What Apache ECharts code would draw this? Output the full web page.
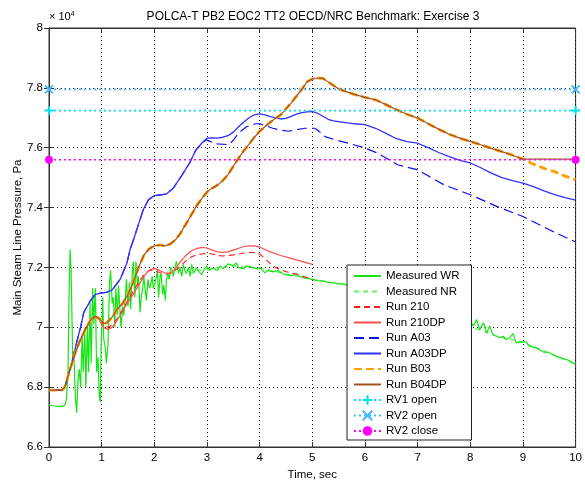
<!DOCTYPE html>
<html>
<head>
<meta charset="utf-8">
<script src="https://cdn.jsdelivr.net/npm/echarts@6/dist/echarts.min.js"></script>
<style>
html,body{margin:0;padding:0;background:#fff;}
#chart{width:585px;height:486px;}
</style>
</head>
<body>
<div id="chart"></div>
<script>
// ---- data (pressure in units of 10^4 Pa, time in s) ----
const xTicks = [0,1,2,3,4,5,6,7,8,9,10];
const yTicks = [6.6,6.8,7,7.2,7.4,7.6,7.8,8];

const wrT = [0,0.1,0.2,0.3,0.33,0.36,0.38,0.4,0.42,0.45,0.47,0.5,0.525,0.55,0.575,0.6,0.63,0.65,0.68,0.7,0.73,0.75,0.78,0.8,0.83,0.85,0.88,0.905,0.93,0.955,0.975,0.99,1.02,1.04,1.07,1.09,1.12,1.15,1.17,1.2,1.22,1.25,1.27,1.3,1.32,1.35,1.37,1.4,1.42,1.45,1.47,1.5,1.53,1.55,1.58,1.6,1.63,1.65,1.68,1.7,1.73,1.75,1.78,1.8,1.83,1.85,1.88,1.91,1.93,1.96,1.98,2,2.03,2.06,2.08,2.11,2.13,2.16,2.18,2.21,2.23,2.26,2.28,2.31,2.34,2.36,2.39,2.42,2.46,2.49,2.52,2.55,2.58,2.61,2.65,2.68,2.71,2.74,2.8,2.85,2.9,2.95,3,3.05,3.1,3.2,3.25,3.3,3.4,3.5,3.55,3.6,3.7,3.75,3.85,3.95,4,4.1,4.15,4.25,4.35,4.45,4.5,4.6,4.7,4.75,4.85,4.95,5,5.1,5.2,5.3,5.4,5.5,5.6,5.8,6,6.2,6.4,6.6,6.8,7,7.2,7.4,7.6,7.8,8,8.06,8.12,8.18,8.25,8.31,8.37,8.43,8.5,8.56,8.62,8.68,8.75,8.81,8.87,8.97,9.06,9.12,9.25,9.38,9.5,9.63,9.75,9.88,10];
const wrV = [6.740,6.737,6.735,6.738,6.760,6.840,7.100,7.260,7.190,6.900,6.920,6.770,6.715,6.820,6.860,6.800,6.970,6.850,6.990,6.800,7.010,6.850,7.080,6.880,7.130,7.010,7.130,6.850,6.900,6.770,6.750,6.940,7.100,6.960,6.930,6.880,6.940,7.150,7.190,7.080,7.100,7.000,7.130,7.040,7.140,7.050,7.000,7.070,7.040,7.100,7.160,7.070,7.150,7.060,7.180,7.220,7.100,7.220,7.140,7.170,7.050,7.100,7.130,7.170,7.120,7.090,7.160,7.130,7.140,7.170,7.130,7.140,7.160,7.190,7.100,7.170,7.180,7.110,7.140,7.090,7.160,7.180,7.160,7.200,7.190,7.170,7.200,7.220,7.180,7.200,7.170,7.210,7.190,7.180,7.200,7.170,7.210,7.180,7.200,7.185,7.176,7.195,7.205,7.190,7.198,7.190,7.205,7.195,7.212,7.205,7.215,7.200,7.195,7.205,7.200,7.195,7.200,7.182,7.190,7.185,7.190,7.178,7.176,7.172,7.180,7.170,7.165,7.162,7.160,7.156,7.155,7.150,7.148,7.146,7.145,7.130,7.120,7.100,7.090,7.080,7.070,7.060,7.050,7.040,7.030,7.025,7.020,7.004,7.026,6.992,7.015,6.981,7.004,6.976,6.970,6.965,6.970,6.959,6.965,6.979,6.948,6.951,6.951,6.937,6.931,6.918,6.915,6.903,6.896,6.889,6.876];

const nrT = [2.8,3.5,4.0,4.5,5.0,5.5,6.5,7.5,8.5,9.0,9.5,10];
const nrV = [7.19,7.205,7.198,7.178,7.16,7.146,7.085,7.035,6.97,6.95,6.915,6.876];

const r210T = [0,0.25,0.3,0.4,0.5,0.6,0.7,0.8,0.88,0.95,1,1.05,1.12,1.2,1.3,1.4,1.5,1.6,1.7,1.8,1.9,2,2.1,2.2,2.3,2.4,2.5,2.6,2.7,2.8,2.9,3,3.1,3.2,3.3,3.4,3.5,3.6,3.7,3.8,3.9,4,4.1,4.2,4.3,4.4,4.5,4.6,4.8,5];
const r210V = [6.79,6.79,6.80,6.86,6.915,6.96,6.995,7.025,7.035,7.028,7.015,7.005,7.0,7.008,7.03,7.06,7.09,7.12,7.15,7.175,7.19,7.19,7.183,7.178,7.18,7.19,7.205,7.222,7.235,7.242,7.245,7.248,7.245,7.24,7.238,7.24,7.242,7.245,7.248,7.25,7.25,7.245,7.23,7.213,7.2,7.192,7.186,7.182,7.172,7.16];

const r210dpT = [0,0.25,0.3,0.35,0.4,0.5,0.6,0.7,0.8,0.88,0.95,1,1.05,1.12,1.2,1.3,1.4,1.5,1.6,1.7,1.8,1.9,2,2.1,2.2,2.3,2.4,2.5,2.6,2.7,2.8,2.9,3,3.1,3.2,3.3,3.4,3.5,3.6,3.7,3.8,3.9,4,4.1,4.2,4.4,4.6,4.8,5];
const r210dpV = [6.79,6.79,6.80,6.83,6.86,6.915,6.96,6.995,7.025,7.035,7.025,7.01,6.998,6.993,7.0,7.025,7.055,7.085,7.11,7.14,7.17,7.19,7.197,7.19,7.182,7.18,7.195,7.22,7.24,7.255,7.263,7.267,7.265,7.258,7.252,7.25,7.252,7.258,7.264,7.27,7.272,7.272,7.268,7.26,7.252,7.24,7.23,7.22,7.21];

const a03T = [0,0.25,0.3,0.35,0.4,0.5,0.54,0.6,0.66,0.79,0.88,1,1.1,1.2,1.35,1.48,1.54,1.6,1.67,1.79,1.89,2,2.23,2.36,2.51,2.67,2.79,2.9,2.98,3.1,3.2,3.42,3.5,3.6,3.75,3.92,4,4.11,4.25,4.36,4.55,4.7,4.86,5.05,5.15,5.24,5.43,5.68,5.99,6.24,6.62,7,7.5,8,8.5,9,9.5,10];
const a03V = [6.79,6.79,6.80,6.83,6.86,6.93,6.96,7.0,7.05,7.09,7.11,7.115,7.117,7.125,7.16,7.215,7.26,7.29,7.328,7.393,7.426,7.44,7.445,7.465,7.504,7.549,7.593,7.612,7.627,7.618,7.613,7.61,7.625,7.649,7.67,7.68,7.68,7.674,7.665,7.66,7.655,7.66,7.665,7.665,7.652,7.637,7.627,7.615,7.60,7.582,7.543,7.526,7.476,7.443,7.404,7.37,7.326,7.285];

const a03dpT = [0,0.25,0.3,0.35,0.4,0.5,0.54,0.6,0.66,0.79,0.88,1,1.1,1.2,1.35,1.48,1.54,1.6,1.67,1.79,1.89,2,2.23,2.36,2.51,2.67,2.79,2.9,3,3.1,3.2,3.3,3.4,3.5,3.6,3.7,3.8,3.9,4,4.1,4.2,4.3,4.4,4.5,4.6,4.7,4.8,4.9,5,5.1,5.2,5.3,5.4,5.6,5.8,6,6.2,6.4,6.6,6.8,7,7.2,7.4,7.6,7.8,8,8.2,8.4,8.6,8.8,9,9.2,9.4,9.6,9.8,10];
const a03dpV = [6.79,6.79,6.80,6.83,6.86,6.93,6.96,7.0,7.05,7.09,7.11,7.115,7.117,7.125,7.16,7.215,7.26,7.29,7.328,7.393,7.426,7.44,7.445,7.465,7.504,7.549,7.593,7.615,7.632,7.633,7.632,7.635,7.64,7.652,7.67,7.686,7.70,7.71,7.713,7.71,7.704,7.70,7.696,7.698,7.705,7.712,7.717,7.72,7.721,7.715,7.705,7.695,7.69,7.685,7.68,7.677,7.665,7.648,7.63,7.62,7.615,7.60,7.584,7.57,7.558,7.549,7.533,7.515,7.50,7.49,7.482,7.47,7.456,7.443,7.433,7.425];

const b03T = [0,0.25,0.3,0.35,0.4,0.5,0.6,0.7,0.8,0.88,0.95,1,1.05,1.1,1.2,1.3,1.4,1.5,1.6,1.7,1.8,1.9,2,2.1,2.2,2.3,2.4,2.5,2.6,2.7,2.8,2.9,3,3.1,3.2,3.3,3.4,3.5,3.6,3.7,3.8,3.9,4,4.1,4.2,4.3,4.4,4.5,4.6,4.7,4.8,4.9,5,5.1,5.2,5.3,5.4,5.5,5.6,5.8,6,6.2,6.4,6.6,6.8,7,7.2,7.4,7.6,7.8,8,8.2,8.4,8.6,8.8,9,9.2,9.4,9.6,9.8,10];
const b03V = [6.79,6.79,6.80,6.83,6.86,6.915,6.96,6.997,7.027,7.037,7.03,7.02,7.013,7.015,7.035,7.062,7.08,7.11,7.15,7.20,7.24,7.262,7.272,7.275,7.272,7.278,7.292,7.315,7.345,7.375,7.405,7.43,7.452,7.465,7.475,7.49,7.51,7.538,7.565,7.59,7.612,7.635,7.655,7.67,7.685,7.698,7.71,7.73,7.75,7.772,7.795,7.82,7.83,7.833,7.832,7.82,7.808,7.797,7.79,7.778,7.768,7.76,7.744,7.727,7.712,7.699,7.68,7.662,7.645,7.632,7.621,7.61,7.598,7.587,7.575,7.562,7.545,7.531,7.52,7.505,7.493];

const b04dpT = [0,0.25,0.3,0.35,0.4,0.5,0.6,0.7,0.8,0.88,0.95,1,1.05,1.1,1.2,1.3,1.4,1.5,1.6,1.7,1.8,1.9,2,2.1,2.2,2.3,2.4,2.5,2.6,2.7,2.8,2.9,3,3.1,3.2,3.3,3.4,3.5,3.6,3.7,3.8,3.9,4,4.1,4.2,4.3,4.4,4.5,4.6,4.7,4.8,4.9,5,5.1,5.2,5.3,5.4,5.5,5.6,5.8,6,6.2,6.4,6.6,6.8,7,7.2,7.4,7.6,7.8,8,8.2,8.4,8.6,8.8,9,10];
const b04dpV = [6.79,6.79,6.80,6.83,6.86,6.915,6.96,6.997,7.027,7.037,7.03,7.02,7.013,7.015,7.035,7.062,7.08,7.11,7.15,7.20,7.24,7.262,7.272,7.275,7.272,7.278,7.292,7.315,7.345,7.375,7.405,7.43,7.452,7.465,7.475,7.49,7.51,7.538,7.565,7.59,7.612,7.635,7.655,7.67,7.685,7.698,7.71,7.73,7.75,7.772,7.795,7.82,7.83,7.833,7.832,7.82,7.808,7.797,7.79,7.778,7.768,7.76,7.744,7.727,7.712,7.699,7.68,7.662,7.645,7.632,7.621,7.61,7.598,7.587,7.575,7.562,7.562];

const rvT = [0, 10];
const rv1OpenV = [7.724, 7.724];
const rv2OpenV = [7.795, 7.795];
const rv2CloseV = [7.56, 7.56];

const legendNames = ['Measured WR','Measured NR','Run 210','Run 210DP','Run A03','Run A03DP','Run B03','Run B04DP','RV1 open','RV2 open','RV2 close'];
const markerNames = ['RV1 open','RV2 open','RV2 close'];

// ---- build ----
const zip = (t, v) => t.map((x, i) => [x, v[i]]);
const FONT = '"Liberation Sans", Arial, Helvetica, sans-serif';

function lineSeries(name, t, v, color, width, type) {
  return {
    name: name, type: 'line', data: zip(t, v),
    showSymbol: false, symbol: 'none', animation: false,
    lineStyle: { color: color, width: width, type: type },
    itemStyle: { color: color },
    emphasis: { disabled: true }
  };
}
function rvSeries(name, v, color, symbol, size, filled) {
  return {
    name: name, type: 'line', data: zip(rvT, v), animation: false,
    symbol: symbol, symbolSize: size, showSymbol: true,
    lineStyle: { color: color, width: 1.6, type: [2, 3] },
    itemStyle: filled ? { color: color } : { color: 'rgba(0,0,0,0)', borderColor: color, borderWidth: 2 },
    emphasis: { disabled: true }, z: 5
  };
}

const plusPath = 'path://M5,0L5,10M0,5L10,5';
const crossPath = 'path://M0,0L10,10M10,0L0,10';

const series = [
  lineSeries('Measured NR', nrT, nrV, '#66ee66', 1.2, [5, 4]),
  lineSeries('Measured WR', wrT, wrV, '#14e614', 1.2, 'solid'),
  lineSeries('Run 210', r210T, r210V, '#ff1a1a', 1.1, [6, 4]),
  lineSeries('Run 210DP', r210dpT, r210dpV, '#ff4d4d', 1.2, 'solid'),
  lineSeries('Run A03', a03T, a03V, '#1010ee', 1.2, [10, 5]),
  lineSeries('Run A03DP', a03dpT, a03dpV, '#3030ff', 1.3, 'solid'),
  lineSeries('Run B03', b03T, b03V, '#ffa000', 2.8, [8, 4]),
  lineSeries('Run B04DP', b04dpT, b04dpV, '#a0522d', 1.2, 'solid'),
  rvSeries('RV1 open', rv1OpenV, '#00e0f0', plusPath, 9, false),
  rvSeries('RV2 open', rv2OpenV, '#44b8ff', crossPath, 8, false),
  rvSeries('RV2 close', rv2CloseV, '#ff00ff', 'circle', 8, true)
];

const axisCommon = {
  type: 'value',
  axisLine: { show: true, lineStyle: { color: '#333', width: 1 } },
  axisTick: { show: true, inside: true, length: 5, lineStyle: { color: '#333' } },
  splitLine: { show: true, lineStyle: { color: '#111', width: 1, type: [1, 3] } }
};

const option = {
  backgroundColor: '#fff',
  animation: false,
  textStyle: { fontFamily: FONT },
  grid: { left: 49, right: 4.5, top: 28, bottom: 37.7, show: true, borderColor: '#333', borderWidth: 1, backgroundColor: 'rgba(0,0,0,0)' },
  xAxis: [
    Object.assign({}, axisCommon, {
      min: xTicks[0], max: xTicks[xTicks.length - 1], interval: 1,
      name: 'Time, sec', nameLocation: 'middle', nameGap: 22, nameMoveOverlap: false,
      nameTextStyle: { fontSize: 11.5, color: '#000', fontFamily: FONT },
      axisLabel: { fontSize: 11.5, color: '#000', margin: 5, fontFamily: FONT }
    }),
    Object.assign({}, axisCommon, {
      position: 'top', min: 0, max: 10, interval: 1,
      axisLabel: { show: false }, splitLine: { show: false }
    })
  ],
  yAxis: [
    Object.assign({}, axisCommon, {
      min: yTicks[0], max: yTicks[yTicks.length - 1], interval: 0.2,
      name: 'Main Steam Line Pressure, Pa', nameLocation: 'middle', nameGap: 25, nameRotate: 90, nameMoveOverlap: false,
      nameTextStyle: { fontSize: 11.5, color: '#000', fontFamily: FONT },
      axisLabel: { fontSize: 11.5, color: '#000', margin: 6, fontFamily: FONT,
        formatter: v => String(+v.toFixed(1)) }
    }),
    Object.assign({}, axisCommon, {
      position: 'right', min: 6.6, max: 8, interval: 0.2,
      axisLabel: { show: false }, splitLine: { show: false }
    })
  ],
  legend: {
    data: legendNames.map(n => markerNames.indexOf(n) >= 0 ? { name: n } : { name: n, itemStyle: { opacity: 0 } }),
    orient: 'vertical', left: 347, top: 265,
    padding: [5, 12, 3, 6],
    itemWidth: 27, itemHeight: 12, itemGap: 3.5,
    backgroundColor: '#fff', borderColor: '#222', borderWidth: 1, borderRadius: 0,
    textStyle: { fontSize: 11.5, color: '#000', fontFamily: FONT, lineHeight: 12 },
    selectedMode: false
  },
  graphic: [
    { type: 'text', x: 313, y: 16.5, style: { text: 'POLCA-T PB2 EOC2 TT2 OECD/NRC Benchmark: Exercise 3', font: '12px ' + FONT, fill: '#000', textAlign: 'center', textVerticalAlign: 'middle' } },
    { type: 'text', x: 49, y: 17, style: { text: '{a|× 10}{b|4}', font: '11px ' + FONT, fill: '#000', textVerticalAlign: 'middle',
        rich: { a: { fontSize: 11, fontFamily: FONT, fill: '#000' }, b: { fontSize: 7, fontFamily: FONT, verticalAlign: 'top', fill: '#000', padding: [0, 0, 5, 0] } } } }
  ],
  series: series
};

const chart = echarts.init(document.getElementById('chart'), null, { renderer: 'canvas' });
chart.setOption(option);
</script>
</body>
</html>
